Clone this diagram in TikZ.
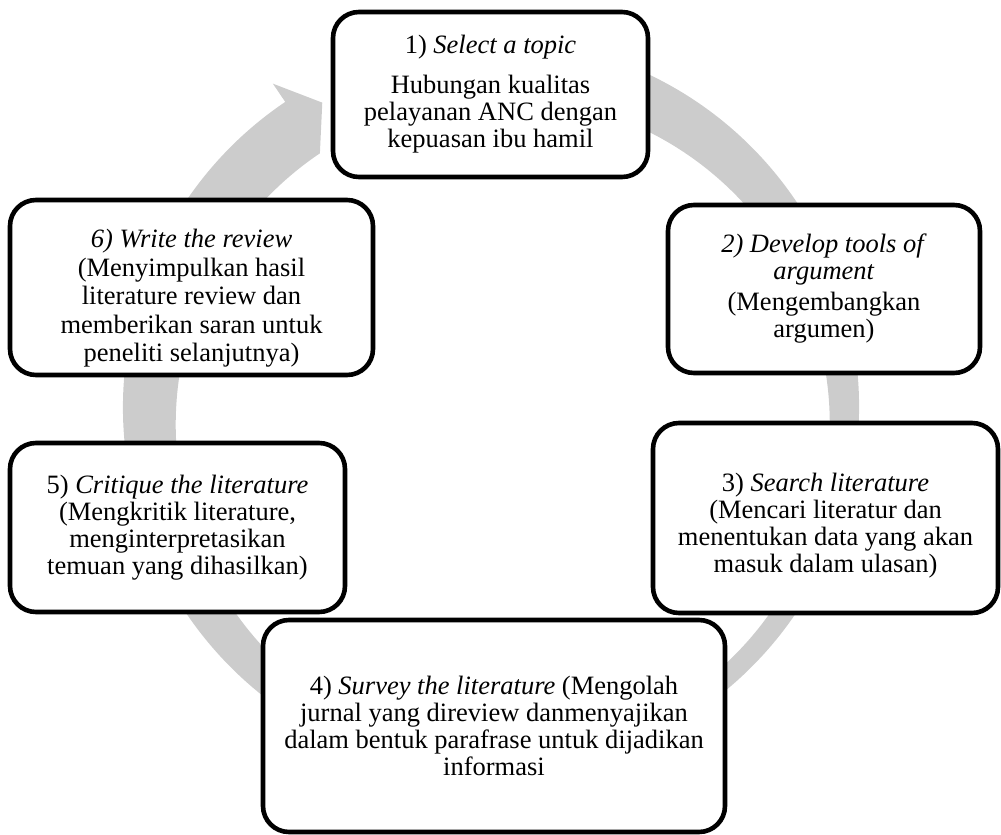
\documentclass[tikz,border=0pt]{standalone}
\usepackage{fontspec}
\setmainfont{Liberation Serif}
\usetikzlibrary{calc}
\definecolor{ringgray}{RGB}{204,204,204}
\tikzset{
  stepbox/.style={draw=black, line width=4.6pt, rounded corners=26pt, fill=white,
    align=center, inner sep=0pt,
    font=\fontsize{26.5}{27}\selectfont},
}
\begin{document}
\begin{tikzpicture}[x=1pt,y=1pt]
\useasboundingbox (0,0) rectangle (1001,-835);
\coordinate (c) at (491,-407);
% circular arrow
\fill[ringgray] ($(c)+(80:368)$) arc[start angle=80, end angle=-236, radius=368]
  -- ($(c)+(124:390)$) -- ($(c)+(119:348)$) -- ($(c)+(124:306)$)
  arc[start angle=-236, end angle=80, radius=327] -- cycle;
% boxes
\node[stepbox, minimum width=315, minimum height=165] (b1) at (490.5,-94.5)
  {1) \textit{Select a topic}\\[13pt]Hubungan kualitas\\pelayanan ANC dengan\\kepuasan ibu hamil};
\node[stepbox, minimum width=312, minimum height=168] (b2) at (824,-289)
  {\textit{2) Develop tools of}\\\textit{argument}\\[4pt](Mengembangkan\\argumen)};
\node[stepbox, minimum width=345, minimum height=190] (b3) at (825.5,-518)
  {\rule{0pt}{34pt}3) \textit{Search literature}\\(Mencari literatur dan\\menentukan data yang akan\\masuk dalam ulasan)};
\node[stepbox, minimum width=462, minimum height=212] (b4) at (494,-726)
  {4) \textit{Survey the literature} (Mengolah\\jurnal yang direview danmenyajikan\\dalam bentuk parafrase untuk dijadikan\\informasi};
\node[stepbox, minimum width=335, minimum height=169] (b5) at (177.5,-527.5)
  {5) \textit{Critique the literature}\\(Mengkritik literature,\\menginterpretasikan\\temuan yang dihasilkan)};
\node[stepbox, minimum width=363, minimum height=175, font=\fontsize{26.5}{28.5}\selectfont] (b6) at (191.5,-287.5)
  {\rule{0pt}{40pt}\textit{6) Write the review}\\(Menyimpulkan hasil\\literature review dan\\memberikan saran untuk\\peneliti selanjutnya)};
\end{tikzpicture}
\end{document}
